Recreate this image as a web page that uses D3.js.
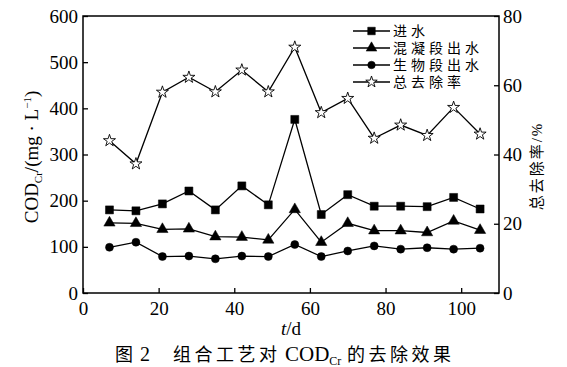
<!DOCTYPE html>
<html><head><meta charset="utf-8">
<script src="https://cdn.jsdelivr.net/npm/d3@7"></script>
<style>
body{margin:0;background:#fff;}
svg text{font-family:"Liberation Serif","Noto Sans CJK SC",serif;fill:#000;}
</style></head>
<body><svg id="c" width="567" height="367"></svg>
<script>
const days = [7,14,21,28,35,42,49,56,63,70,77,84,91,98,105];
const influent = [180,178,193,221,180,232,191,376,170,213,188,188,187,207,182];
const coagEffluent = [152,151,138,139,122,121,115,181,110,151,135,135,131,156,136];
const bioEffluent = [99,110,79,80,74,80,79,105,79,91,102,95,98,95,97];
const removalRate = [44.0,37.3,58.0,62.3,58.1,64.4,58.1,71.0,52.1,56.2,44.7,48.5,45.5,53.6,45.9];
const xTicks = [0,20,40,60,80,100];
const yLeftTicks = [0,100,200,300,400,500,600];
const yRightTicks = [0,20,40,60,80];
const legendNames = ["进水","混凝段出水","生物段出水","总去除率"];

const SERIF = '"Liberation Serif", "Times New Roman", "Noto Sans CJK SC", serif';
const svg = d3.select("#c");
const L=83,R=499,T=16,B=293;
const x = d3.scaleLinear().domain([0,110]).range([L,R]);
const yL = d3.scaleLinear().domain([0,600]).range([B,T]);
const yR = d3.scaleLinear().domain([0,80]).range([B,T]);

svg.append("rect").attr("x",L).attr("y",T).attr("width",R-L).attr("height",B-T)
  .attr("fill","none").attr("stroke","#000").attr("stroke-width",1.5);

const gx = svg.append("g").attr("transform",`translate(0,${B})`)
  .call(d3.axisBottom(x).tickValues(xTicks).tickSizeInner(-5).tickSizeOuter(0).tickPadding(8));
const gl = svg.append("g").attr("transform",`translate(${L},0)`)
  .call(d3.axisLeft(yL).tickValues(yLeftTicks).tickSizeInner(-5).tickSizeOuter(0).tickPadding(5));
const gr = svg.append("g").attr("transform",`translate(${R},0)`)
  .call(d3.axisRight(yR).tickValues(yRightTicks).tickSizeInner(-5).tickSizeOuter(0).tickPadding(4));
[gx,gl,gr].forEach(g=>{
  g.attr("font-family",null).attr("font-size",null);
  g.select(".domain").remove();
  g.selectAll("line").attr("stroke","#000").attr("stroke-width",1.3);
  g.selectAll("text").style("font-family",SERIF).style("font-size","19px");
});
gx.selectAll("text").attr("dy","0.72em");

const series = [
  {vals:influent, sym:d3.symbolSquare, size:64, fill:"#000", sc:yL},
  {vals:coagEffluent, sym:d3.symbolTriangle, size:55, fill:"#000", sc:yL},
  {vals:bioEffluent, sym:d3.symbolCircle, size:50, fill:"#000", sc:yL},
  {vals:removalRate, sym:d3.symbolStar, size:45, fill:"#fff", sc:yR}
];
series.forEach(s=>{
  const line = d3.line().x((d,i)=>x(days[i])).y(d=>s.sc(d));
  svg.append("path").datum(s.vals).attr("d",line).attr("fill","none")
    .attr("stroke","#000").attr("stroke-width",1.3);
  svg.append("g").selectAll("path").data(s.vals).join("path")
    .attr("transform",(d,i)=>`translate(${x(days[i])},${s.sc(d)})`)
    .attr("d",d3.symbol().type(s.sym).size(s.size))
    .attr("fill",s.fill).attr("stroke","#000").attr("stroke-width",s.fill==="#fff"?0.9:0.5);
});

const leg = svg.append("g");
legendNames.forEach((n,i)=>{
  const yy = 31 + i*17;
  const s = series[i];
  leg.append("line").attr("x1",353).attr("x2",390).attr("y1",yy).attr("y2",yy)
    .attr("stroke","#000").attr("stroke-width",1.3);
  leg.append("path").attr("transform",`translate(371.5,${yy})`)
    .attr("d",d3.symbol().type(s.sym).size(s.size*0.9))
    .attr("fill",s.fill).attr("stroke","#000").attr("stroke-width",s.fill==="#fff"?0.9:0.5);
  leg.append("text").attr("x",393).attr("y",yy).attr("dy","0.36em")
    .style("font-size","14px").style("letter-spacing","4px").text(n);
});

const lt = svg.append("text").attr("transform","translate(38,157) rotate(-90)")
  .attr("text-anchor","middle").style("font-family",SERIF).style("font-size","19px");
lt.append("tspan").text("COD");
lt.append("tspan").style("font-size","11px").attr("dy","4").text("Cr");
lt.append("tspan").attr("dy","-4").text("/(mg · L");
lt.append("tspan").style("font-size","11px").attr("dy","-7").text("−1");
lt.append("tspan").attr("dy","7").text(")");

svg.append("text").attr("transform","translate(542,166) rotate(-90)")
  .attr("text-anchor","middle").style("font-size","15px").style("letter-spacing","2px").text("总去除率/%");

const xl = svg.append("text").attr("x",291).attr("y",335).attr("text-anchor","middle")
  .style("font-family",SERIF).style("font-size","19px");
xl.append("tspan").style("font-style","italic").text("t");
xl.append("tspan").text("/d");

const cap = svg.append("text").attr("x",115).attr("y",361).style("font-size","18px");
cap.append("tspan").text("图");
cap.append("tspan").attr("x",140).style("font-family",SERIF).style("font-size","20px").text("2");
cap.append("tspan").attr("x",173).style("letter-spacing","3.5px").text("组合工艺对");
cap.append("tspan").attr("x",285).style("font-family",SERIF).style("font-size","21px").text("COD");
cap.append("tspan").style("font-family",SERIF).style("font-size","12px").attr("dy","4").text("Cr");
cap.append("tspan").attr("dy","-4").attr("x",347).style("letter-spacing","3.5px").text("的去除效果");
</script></body></html>
